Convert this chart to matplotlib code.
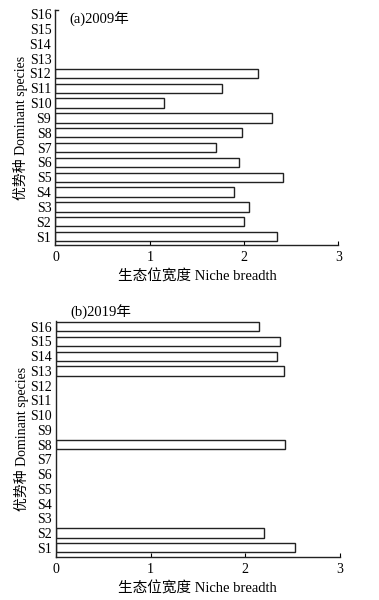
import matplotlib
matplotlib.use("Agg")
import matplotlib.pyplot as plt
import numpy as np

plt.rcParams['font.family'] = ['Liberation Serif', 'Noto Sans CJK SC', 'DejaVu Sans']

species = ["S1", "S2", "S3", "S4", "S5", "S6", "S7", "S8",
           "S9", "S10", "S11", "S12", "S13", "S14", "S15", "S16"]
# 2009 niche breadth (None = absent)
breadth_2009 = [2.35, 2.00, 2.05, 1.89, 2.41, 1.95, 1.70, 1.98,
                2.30, 1.15, 1.76, 2.15, None, None, None, None]
# 2019 niche breadth
breadth_2019 = [2.53, 2.20, None, None, None, None, None, 2.42,
                None, None, None, None, 2.41, 2.34, 2.37, 2.15]
xticks = [0, 1, 2, 3]
xlabel = "生态位宽度 Niche breadth"
ylabel = "优势种 Dominant species"
titles = ["(a)2009年", "(b)2019年"]

fig = plt.figure(figsize=(3.79, 6.0), dpi=100)
ax1 = fig.add_axes([0.1464, 0.5917, 0.7467, 0.3917])
ax2 = fig.add_axes([0.1478, 0.0712, 0.7480, 0.3938])

def draw(ax, vals, ylim, title, title_y):
    pos = [i + 1 for i, v in enumerate(vals) if v is not None]
    w = [v for v in vals if v is not None]
    ax.barh(pos, w, height=0.63, color="white", edgecolor="#222222", linewidth=1.0)
    ax.set_xlim(0, 3)
    ax.set_ylim(*ylim)
    ax.set_yticks(range(1, 17))
    ax.set_yticklabels(species, fontsize=10)
    ax.tick_params(axis="y", length=0, pad=3)
    ax.set_xticks(xticks)
    ax.set_xticklabels([str(t) for t in xticks], fontsize=10)
    ax.tick_params(axis="x", direction="in", length=3, width=0.8, pad=4)
    for s in ["top", "right"]:
        ax.spines[s].set_visible(False)
    for s in ["left", "bottom"]:
        ax.spines[s].set_linewidth(1.0)
        ax.spines[s].set_color("#222222")
    ax.set_xlabel(xlabel, fontsize=10.5, labelpad=4)
    ax.set_ylabel(ylabel, fontsize=10, labelpad=1)
    ax.text(0.05, title_y, title, transform=ax.transAxes, fontsize=10.5,
            va="center", ha="left")

draw(ax1, breadth_2009, (0.44, 16.27), titles[0], 0.96)
ax1.plot([0, 0.03], [16.27, 16.27], color="#222222", lw=1.0, clip_on=False)
draw(ax2, breadth_2019, (0.35, 16.39), titles[1], 1.035)

fig.savefig("out.png", dpi=100)
